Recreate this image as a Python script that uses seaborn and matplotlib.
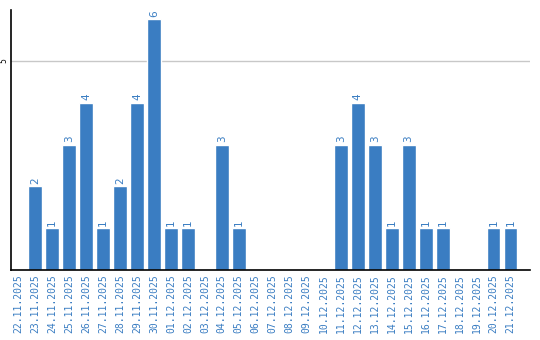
import matplotlib
matplotlib.use("Agg")
import matplotlib.pyplot as plt
import seaborn as sns
import pandas as pd

dates = ["22.11.2025", "23.11.2025", "24.11.2025", "25.11.2025", "26.11.2025",
         "27.11.2025", "28.11.2025", "29.11.2025", "30.11.2025", "01.12.2025",
         "02.12.2025", "03.12.2025", "04.12.2025", "05.12.2025", "06.12.2025",
         "07.12.2025", "08.12.2025", "09.12.2025", "10.12.2025", "11.12.2025",
         "12.12.2025", "13.12.2025", "14.12.2025", "15.12.2025", "16.12.2025",
         "17.12.2025", "18.12.2025", "19.12.2025", "20.12.2025", "21.12.2025"]
counts = [0, 2, 1, 3, 4, 1, 2, 4, 6, 1, 1, 0, 3, 1, 0,
          0, 0, 0, 0, 3, 4, 3, 1, 3, 1, 1, 0, 0, 1, 1]

df = pd.DataFrame({"date": dates, "count": counts})

sns.set_style("white")
blue = "#3a7dc2"

fig = plt.figure(figsize=(5.4, 3.4), dpi=100)
ax = fig.add_axes([10.5/540, 70/340, 519.5/540, 260/340])

sns.barplot(data=df, x="date", y="count", color=blue, width=0.82,
            saturation=1, ax=ax, order=dates)

for i, v in enumerate(counts):
    if v > 0:
        ax.text(i, v + 0.06, str(v), rotation=90, ha="center", va="bottom",
                color=blue, fontsize=7.5, family="DejaVu Sans")

ax.set_xlim(-0.45, 30.15)
ax.set_ylim(0, 6.22)
ax.set_yticks([5])
ax.set_yticklabels(["5"], rotation=90, va="center", fontsize=5.5, color="black")
ax.axhline(5, color="#c8c8c8", linewidth=1, zorder=0)
ax.set_xticks(range(len(dates)))
ax.set_xticklabels(dates, rotation=90, color=blue, fontsize=7, family="DejaVu Sans Mono")
ax.tick_params(axis="both", length=0, pad=3)
ax.tick_params(axis="y", pad=1.5)
ax.set_xlabel("")
ax.set_ylabel("")
for s in ["top", "right"]:
    ax.spines[s].set_visible(False)
for s in ["left", "bottom"]:
    ax.spines[s].set_color("black")
    ax.spines[s].set_linewidth(1.2)

fig.savefig("out.png", dpi=100)
